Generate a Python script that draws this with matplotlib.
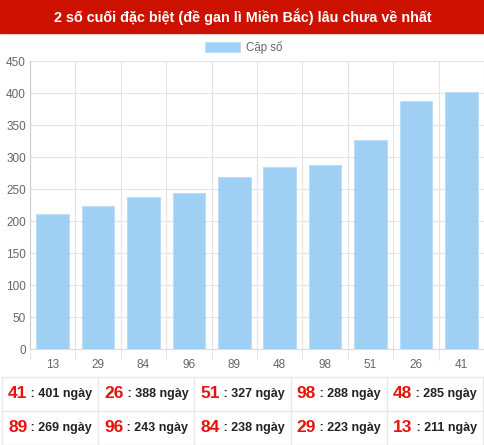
import numpy as np
import matplotlib.pyplot as plt
from matplotlib.patches import Rectangle

plt.rcParams['font.family'] = ['Liberation Sans', 'DejaVu Sans']

labels = ['13', '29', '84', '96', '89', '48', '98', '51', '26', '41']
values = [211, 223, 238, 243, 269, 285, 288, 327, 388, 401]
yticks = [0, 50, 100, 150, 200, 250, 300, 350, 400, 450]

table_nums = [['41', '26', '51', '98', '48'],
              ['89', '96', '84', '29', '13']]
table_days = [[401, 388, 327, 288, 285],
              [269, 243, 238, 223, 211]]

W, H = 485, 445
fig = plt.figure(figsize=(W / 100, H / 100), dpi=100)

# title bar
fig.patches.append(Rectangle((0, 1 - 33 / H), 1, 33 / H, transform=fig.transFigure,
                             color='#cc1100', zorder=0))
fig.text(0.5, 1 - 17 / H, '2 số cuối đặc biệt (đề gan lì Miền Bắc) lâu chưa về nhất',
         color='white', fontsize=10.4, fontweight='bold', ha='center', va='center')

# legend
fig.patches.append(Rectangle((205 / W, 1 - 52 / H), 35 / W, 10 / H, transform=fig.transFigure,
                             facecolor='#9fd0f5', edgecolor='#bfe0fa', lw=0.8))
fig.text(246 / W, 1 - 47 / H, 'Cặp số', color='#666666', fontsize=8.3, va='center')

ax = fig.add_axes([30 / W, (H - 349) / H, (484 - 30) / W, (349 - 61) / H])
x = np.arange(len(labels))
ax.bar(x, values, width=0.72, color='#8ec8f3', alpha=0.85, edgecolor='#b8dcf8', lw=0.8, zorder=3)
ax.set_xlim(-0.5, len(labels) - 0.5)
ax.set_ylim(0, 450)
ax.set_yticks(yticks)
ax.set_xticks(x)
ax.set_xticklabels(labels)
ax.set_xticks(np.arange(-0.5, len(labels)), minor=True)
ax.grid(axis='y', color='#e4e4e4', lw=0.8, zorder=4)
ax.grid(axis='x', which='minor', color='#e4e4e4', lw=0.8, zorder=1)
ax.tick_params(axis='x', which='major', length=0, pad=7, labelsize=8.5, labelcolor='#666666')
ax.tick_params(axis='x', which='minor', length=8, color='#e4e4e4')
ax.tick_params(axis='y', length=0, pad=3, labelsize=8.5, labelcolor='#666666')
for s in ['top', 'right']:
    ax.spines[s].set_visible(False)
ax.spines['left'].set_color('#cccccc')
ax.spines['bottom'].set_color('#dddddd')

# table below
top, row_h = 377, 34
left, col_w = 2, 96.2
line_c = '#e8e8e8'
for r in range(3):
    yy = 1 - (top + r * row_h) / H
    fig.add_artist(plt.Line2D([left / W, (left + 5 * col_w) / W], [yy, yy],
                              transform=fig.transFigure, color=line_c, lw=1))
for c in range(6):
    xx = (left + c * col_w) / W
    fig.add_artist(plt.Line2D([xx, xx], [1 - top / H, 1 - (top + 2 * row_h) / H],
                              transform=fig.transFigure, color=line_c, lw=1))

for r in range(2):
    for c in range(5):
        cx = (left + (c + 0.5) * col_w) / W
        cy = 1 - (top + (r + 0.5) * row_h) / H
        t1 = fig.text(0, cy, table_nums[r][c], color='#e8120c', fontsize=12.5,
                      fontweight='bold', va='center')
        t2 = fig.text(0, cy, ' : %d ngày' % table_days[r][c], color='#222222',
                      fontsize=9, fontweight='bold', va='center')
        fig.canvas.draw()
        r1 = fig.canvas.get_renderer()
        w1 = t1.get_window_extent(r1).width / W
        w2 = t2.get_window_extent(r1).width / W
        x0 = cx - (w1 + w2) / 2
        t1.set_x(x0)
        t2.set_x(x0 + w1)

fig.savefig('out.png', dpi=100)
